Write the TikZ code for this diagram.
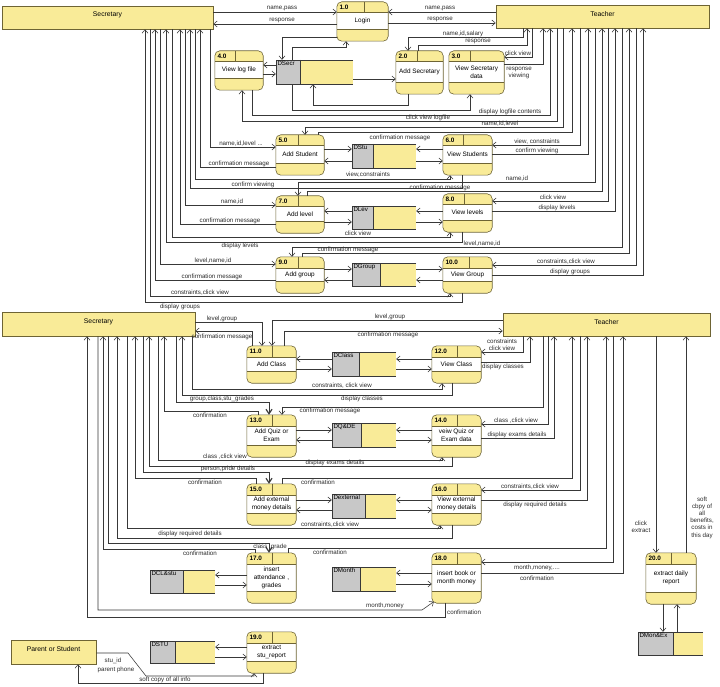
\documentclass[tikz,border=0pt]{standalone}
\usepackage{fontspec}
\setmainfont{Liberation Sans}
\usetikzlibrary{arrows.meta,fit}
\definecolor{dfdyellow}{HTML}{F9EB98}
\definecolor{dfdedge}{HTML}{6E6434}
\definecolor{dfdgray}{HTML}{C8C8C8}
\definecolor{dfdline}{HTML}{383838}
\definecolor{dfdtext}{HTML}{2B2B2B}
\tikzset{
  flow/.style={draw=dfdline,line width=0.55pt,-{Straight Barb[length=3.5pt,width=6pt]}},
  heavyflow/.style={flow,-{Straight Barb[length=4.5pt,width=6pt,line width=1.2pt]}},
  lbl/.style={font=\fontsize{6.2}{7.2}\selectfont,text=dfdtext,inner sep=0pt,align=center},
  entity/.style={draw=dfdedge,fill=dfdyellow,line width=0.6pt,inner sep=0pt,font=\fontsize{6.8}{8}\selectfont},
  procedge/.style={draw=dfdedge,line width=0.6pt},
  procnum/.style={font=\bfseries\fontsize{6.4}{7}\selectfont,anchor=west,inner sep=0pt},
  proctext/.style={font=\fontsize{6.4}{8}\selectfont,align=center,inner sep=0pt},
  storeedge/.style={draw=dfdline,line width=0.6pt},
  storetext/.style={font=\fontsize{6.2}{7}\selectfont,anchor=north west,inner sep=1.5pt},
}
% process: name, x1, y1, x2, y2, number, text, number cell width
\newcommand{\dfdproc}[8]{%
  \node[fit={(#2,#3) (#4,#5)},inner sep=0pt] (#1) {};
  \begin{scope}
    \clip[rounded corners=5pt] (#1.north west) rectangle (#1.south east);
    \fill[white] (#1.north west) rectangle (#1.south east);
    \fill[dfdyellow] (#1.north west) rectangle ([yshift=-11pt]#1.north east);
    \fill[dfdyellow] ([yshift=12pt]#1.south west) rectangle (#1.south east);
  \end{scope}
  \draw[procedge] ([yshift=-11pt]#1.north west) -- ([yshift=-11pt]#1.north east);
  \draw[procedge] ([yshift=12pt]#1.south west) -- ([yshift=12pt]#1.south east);
  \draw[procedge] ([xshift=#8pt]#1.north west) -- ([xshift=#8pt,yshift=-11pt]#1.north west);
  \draw[procedge,rounded corners=5pt] (#1.north west) rectangle (#1.south east);
  \node[procnum] (#1-num) at ([xshift=2.5pt,yshift=-5.5pt]#1.north west) {#6};
  \node[proctext] (#1-text) at ([yshift=0.5pt]#1.center) {#7};
}
% data store: name, x1, y1, x2, y2, x of gray part, label
\newcommand{\dfdstore}[7]{%
  \node[fit={(#2,#3) (#4,#5)},inner sep=0pt] (#1) {};
  \fill[dfdyellow] (#6,#3) rectangle (#4,#5);
  \fill[dfdgray] (#2,#3) rectangle (#6,#5);
  \draw[storeedge] (#4,#3) -- (#2,#3) -- (#2,#5) -- (#4,#5);
  \draw[storeedge] (#6,#3) -- (#6,#5);
  \node[storetext] (#1-name) at (#1.north west) {#7};
}
\begin{document}
\begin{tikzpicture}[x=1pt,y=-1pt]
  \fill[white] (0,0) rectangle (720,687);
  \useasboundingbox (0,0) rectangle (720,687);
  % external entities
  \node[entity,fit={(2,6) (213,29)}] (secT) {Secretary};
  \node[entity,fit={(496,5) (709,28)}] (teaT) {Teacher};
  \node[entity,fit={(2,312) (195,336)}] (secM) {Secretary};
  \node[entity,fit={(503,313) (710,336)}] (teaM) {Teacher};
  \node[entity,fit={(11,640) (96,664)}] (par) {Parent or Student};
  % processes
  \dfdproc{p1}{337}{2}{388}{41}{1.0}{Login}{27}
  \dfdproc{p4}{215}{51}{263}{90}{4.0}{View log file}{20}
  \dfdproc{p2}{396}{51}{443}{94}{2.0}{Add Secretary}{21}
  \dfdproc{p3}{449}{51}{504}{94}{3.0}{View Secretary\\data}{21}
  \dfdproc{p5}{276}{135}{324}{175}{5.0}{Add Student}{22}
  \dfdproc{p6}{443}{135}{492}{175}{6.0}{View Students}{20}
  \dfdproc{p7}{276}{196}{324}{233}{7.0}{Add level}{22}
  \dfdproc{p8}{443}{194}{492}{232}{8.0}{View levels}{21}
  \dfdproc{p9}{276}{257}{324}{293}{9.0}{Add group}{22}
  \dfdproc{p10}{443}{257}{492}{293}{10.0}{View Group}{26}
  \dfdproc{p11}{247}{346}{296}{383}{11.0}{Add Class}{25}
  \dfdproc{p12}{432}{346}{481}{383}{12.0}{View Class}{25}
  \dfdproc{p13}{247}{415}{296}{457}{13.0}{Add Quiz or\\Exam}{25}
  \dfdproc{p14}{432}{415}{481}{457}{14.0}{veiw Quiz or\\Exam data}{25}
  \dfdproc{p15}{247}{484}{296}{525}{15.0}{Add external\\money details}{25}
  \dfdproc{p16}{432}{484}{481}{525}{16.0}{View external\\money details}{25}
  \dfdproc{p17}{247}{553}{296}{603}{17.0}{insert\\attendance ,\\grades}{25}
  \dfdproc{p18}{432}{553}{481}{603}{18.0}{insert book or\\month money}{25}
  \dfdproc{p19}{247}{632}{296}{673}{19.0}{extract\\stu\_report}{25}
  \dfdproc{p20}{646}{553}{696}{604}{20.0}{extract daily\\report}{25}
  % data stores
  \dfdstore{dSecr}{276}{60}{353}{84}{300}{DSecr}
  \dfdstore{dStu}{352}{144}{416}{168}{373}{DStu}
  \dfdstore{dLev}{352}{206}{416}{229}{373}{DLev}
  \dfdstore{dGroup}{352}{263}{416}{286}{380}{DGroup}
  \dfdstore{dClass}{332}{352}{396}{376}{359}{DClass}
  \dfdstore{dQuiz}{332}{423}{396}{447}{361}{DQ\&DE}
  \dfdstore{dExt}{332}{494}{396}{518}{365}{Dexternal}
  \dfdstore{dClStu}{150}{570}{215}{593}{183}{DCL\&stu}
  \dfdstore{dMonth}{332}{567}{396}{591}{360}{DMonth}
  \dfdstore{dStu2}{150}{641}{215}{663}{175}{DSTU}
  \dfdstore{dMonEx}{638}{632}{703}{655}{673}{DMon\&Ex}

  % login
  \draw[flow] (secT.east |- 0,12) -- (p1.west |- 0,12);
  \node[lbl] (t1) at (282,8.5) {name,pass};
  \draw[flow] (p1.west |- 0,24) -- (secT.east |- 0,24);
  \node[lbl] (t2) at (282,20.5) {response};
  \draw[flow] (teaT.west |- 0,12) -- (p1.east |- 0,12);
  \node[lbl] (t3) at (440,8.5) {name,pass};
  \draw[flow] (p1.east |- 0,23) -- (teaT.west |- 0,23);
  \node[lbl] (t4) at (440,19.5) {response};
  \draw[flow] (p1.west |- 0,37) -| (dSecr.north -| 282,0);
  \draw[flow] (dSecr.north -| 292,0) |- (346,47) -- (p1.south -| 346,0);
  % secretaries and log file
  \draw[flow] (dSecr.west |- 0,65) -- (p4.east |- 0,65);
  \draw[flow] (p4.east |- 0,74) -- (dSecr.west |- 0,74);
  \draw[flow] (dSecr.east |- 0,79) -- (p2.west |- 0,79);
  \draw[flow] (p2.south -| 408,0) -- (408,105) -| (dSecr.south -| 313,0);
  \draw[flow] (dSecr.south -| 292,0) -- (292,110) -| (p3.south -| 470,0);
  \draw[flow] (teaT.south -| 523,0) |- (408,37) -- (p2.north -| 408,0);
  \node[lbl] (t5) at (463,33.5) {name,id,salary};
  \draw[flow] (p2.north -| 418,0) |- (527,45) -- (teaT.south -| 527,0);
  \node[lbl] (t6) at (478,41.5) {response};
  \draw[flow] (teaT.south -| 532,0) |- (p3.east |- 0,57);
  \node[lbl] (t7) at (518,53.5) {click view};
  \draw[flow] (p3.east |- 0,64) -| (teaT.south -| 543,0);
  \node[lbl] (t8) at (519,73) {response\\viewing};
  \draw[flow] (p4.south -| 252,0) |- (550,115) -- (teaT.south -| 550,0);
  \node[lbl] (t9) at (510,111.5) {display logfile contents};
  \draw[flow] (teaT.south -| 557,0) |- (242,121) -- (p4.south -| 242,0);
  \node[lbl] (t10) at (428,117.5) {click view logfile};
  % students
  \draw[flow] (teaT.south -| 563,0) |- (305,127) -- (p5.north -| 305,0);
  \node[lbl] (t11) at (500,123.5) {name,id,level};
  \draw[flow] (p5.north -| 318,0) |- (572,132) -- (teaT.south -| 572,0);
  \node[lbl] (t12) at (400,137.5) {confirmation message};
  \draw[flow] (teaT.south -| 580,0) |- (p6.east |- 0,145);
  \node[lbl] (t13) at (537,141.5) {view, constraints};
  \draw[flow] (p6.east |- 0,154) -| (teaT.south -| 588,0);
  \node[lbl] (t14) at (537,150.5) {confirm viewing};
  \draw[flow] (secT.south -| 210,0) |- (p5.west |- 0,147);
  \node[lbl] (t15) at (241,143.5) {name,id,level ...};
  \draw[flow] (p5.west |- 0,167) -| (secT.south -| 200,0);
  \node[lbl] (t16) at (239,163.5) {confirmation message};
  \draw[flow] (secT.south -| 195,0) |- (450,179) -- (p6.south -| 450,0);
  \node[lbl] (t17) at (368,175) {view,constraints};
  \draw[flow] (p6.south -| 462,0) |- (190,188) -- (secT.south -| 190,0);
  \node[lbl] (t18) at (253,184.5) {confirm viewing};
  \draw[flow] (p5.east |- 0,149) -- (dStu.west |- 0,149);
  \draw[flow] (dStu.west |- 0,161) -- (p5.east |- 0,161);
  \draw[flow] (p6.west |- 0,149) -- (dStu.east |- 0,149);
  \draw[flow] (dStu.east |- 0,161) -- (p6.west |- 0,161);
  % levels
  \draw[flow] (teaT.south -| 595,0) |- (298,182) -- (p7.north -| 298,0);
  \node[lbl] (t19) at (517,178.5) {name,id};
  \draw[flow] (p7.north -| 307,0) |- (602,191) -- (teaT.south -| 602,0);
  \node[lbl] (t20) at (440,187.5) {confirmation message};
  \draw[flow] (secT.south -| 185,0) |- (p7.west |- 0,205);
  \node[lbl] (t21) at (232,201.5) {name,id};
  \draw[flow] (p7.west |- 0,224) -| (secT.south -| 180,0);
  \node[lbl] (t22) at (230,220.5) {confirmation message};
  \draw[flow] (teaT.south -| 608,0) |- (p8.east |- 0,201);
  \node[lbl] (t23) at (553,197.5) {click view};
  \draw[flow] (p8.east |- 0,211) -| (teaT.south -| 615,0);
  \node[lbl] (t24) at (557,207.5) {display levels};
  \draw[flow] (secT.south -| 172,0) |- (450,237) -- (p8.south -| 450,0);
  \node[lbl] (t25) at (358,233.5) {click view};
  \draw[flow] (p8.south -| 462,0) |- (166,242) -- (secT.south -| 166,0);
  \node[lbl] (t26) at (240,246) {display levels};
  \draw[flow] (dLev.west |- 0,211) -- (p7.east |- 0,211);
  \draw[flow] (p7.east |- 0,222) -- (dLev.west |- 0,222);
  \draw[flow] (p8.west |- 0,211) -- (dLev.east |- 0,211);
  \draw[flow] (dLev.east |- 0,222) -- (p8.west |- 0,222);
  % groups
  \draw[flow] (teaT.south -| 622,0) |- (292,247) -- (p9.north -| 292,0);
  \node[lbl] (t27) at (482,243.5) {level,name,id};
  \draw[flow] (p9.north -| 302,0) |- (629,253) -- (teaT.south -| 629,0);
  \node[lbl] (t28) at (348,250) {confirmation message};
  \draw[flow] (secT.south -| 160,0) |- (p9.west |- 0,264);
  \node[lbl] (t29) at (213,260.5) {level,name,id};
  \draw[flow] (p9.west |- 0,280) -| (secT.south -| 155,0);
  \node[lbl] (t30) at (212,276.5) {confirmation message};
  \draw[flow] (teaT.south -| 636,0) |- (p10.east |- 0,265);
  \node[lbl] (t31) at (566,261.5) {constraints,click view};
  \draw[flow] (p10.east |- 0,275) -| (teaT.south -| 643,0);
  \node[lbl] (t32) at (570,271.5) {display groups};
  \draw[flow] (secT.south -| 150,0) |- (450,296) -- (p10.south -| 450,0);
  \node[lbl] (t33) at (200,292.5) {constraints,click view};
  \draw[flow] (p10.south -| 462,0) |- (145,302) -- (secT.south -| 145,0);
  \node[lbl] (t34) at (180,306.5) {display groups};
  \draw[flow] (p9.east |- 0,269) -- (dGroup.west |- 0,269);
  \draw[flow] (dGroup.west |- 0,280) -- (p9.east |- 0,280);
  \draw[flow] (dGroup.east |- 0,269) -- (p10.west |- 0,269);
  \draw[flow] (p10.west |- 0,280) -- (dGroup.east |- 0,280);

  % classes
  \draw[flow] (secM.east |- 0,322) -| (p11.north -| 262,0);
  \node[lbl] (t35) at (222,318.5) {level,group};
  \draw[flow] (p11.north -| 252,0) |- (secM.east |- 0,331);
  \node[lbl] (t36) at (222,337) {confirmation message};
  \draw[flow] (teaM.west |- 0,320) -| (p11.north -| 272,0);
  \node[lbl] (t37) at (390,316.5) {level,group};
  \draw[flow] (p11.north -| 284,0) |- (teaM.west |- 0,331);
  \node[lbl] (t38) at (388,335) {confirmation message};
  \draw[flow] (dClass.west |- 0,359) -- (p11.east |- 0,359);
  \draw[flow] (p11.east |- 0,369) -- (dClass.west |- 0,369);
  \draw[flow] (p12.west |- 0,359) -- (dClass.east |- 0,359);
  \draw[flow] (dClass.east |- 0,369) -- (p12.west |- 0,369);
  \draw[flow] (teaM.south -| 523,0) |- (p12.east |- 0,352);
  \node[lbl] (t39) at (502,344.5) {constraints\\click view};
  \draw[flow] (p12.east |- 0,362) -| (teaM.south -| 530,0);
  \node[lbl] (t40) at (503,367) {display classes};
  \draw[flow] (secM.south -| 192,0) |- (442,389) -- (p12.south -| 442,0);
  \node[lbl] (t41) at (342,385.5) {constraints, click view};
  \draw[flow] (p12.south -| 452,0) |- (182,395) -- (secM.south -| 182,0);
  \node[lbl] (t42) at (362,398.5) {display classes};
  % quiz and exam
  \draw[heavyflow] (secM.south -| 176,0) |- (269,402) -- (p13.north -| 269,0);
  \node[lbl] (t43) at (222,398.5) {group,class,stu\_grades};
  \draw[flow] (p13.north -| 258,0) |- (164,411) -- (secM.south -| 164,0);
  \node[lbl] (t44) at (210,415) {confirmation};
  \draw[flow] (teaM.south -| 543,0) |- (282,407) -- (p13.north -| 282,0);
  \node[lbl] (t45) at (330,411) {confirmation message};
  \draw[flow] (p13.east |- 0,430) -- (dQuiz.west |- 0,430);
  \draw[flow] (dQuiz.west |- 0,440) -- (p13.east |- 0,440);
  \draw[flow] (p14.west |- 0,430) -- (dQuiz.east |- 0,430);
  \draw[flow] (dQuiz.east |- 0,440) -- (p14.west |- 0,440);
  \draw[flow] (teaM.south -| 548,0) |- (p14.east |- 0,424);
  \node[lbl] (t46) at (516,420.5) {class ,click view};
  \draw[flow] (p14.east |- 0,438) -| (teaM.south -| 554,0);
  \node[lbl] (t47) at (517,434.5) {display exams details};
  \draw[flow] (secM.south -| 158,0) |- (442,460) -- (p14.south -| 442,0);
  \node[lbl] (t48) at (225,456.5) {class ,click view};
  \draw[flow] (p14.south -| 452,0) |- (149,466) -- (secM.south -| 149,0);
  \node[lbl] (t49) at (335,463) {display exams details};
  % external money
  \draw[heavyflow] (secM.south -| 143,0) |- (269,472) -- (p15.north -| 269,0);
  \node[lbl] (t50) at (228,469) {person,pride details};
  \draw[flow] (p15.north -| 256,0) |- (135,478) -- (secM.south -| 135,0);
  \node[lbl] (t51) at (205,482) {confirmation};
  \draw[flow] (p15.north -| 282,0) |- (572,478) -- (teaM.south -| 572,0);
  \node[lbl] (t52) at (318,482.5) {confirmation};
  \draw[flow] (p15.east |- 0,500) -- (dExt.west |- 0,500);
  \draw[flow] (dExt.west |- 0,510) -- (p15.east |- 0,510);
  \draw[flow] (p16.west |- 0,500) -- (dExt.east |- 0,500);
  \draw[flow] (dExt.east |- 0,510) -- (p16.west |- 0,510);
  \draw[flow] (teaM.south -| 580,0) |- (p16.east |- 0,490);
  \node[lbl] (t53) at (530,486.5) {constraints,click view};
  \draw[flow] (p16.east |- 0,500) -| (teaM.south -| 587,0);
  \node[lbl] (t54) at (535,505) {display required details};
  \draw[flow] (secM.south -| 127,0) |- (440,528) -- (p16.south -| 440,0);
  \node[lbl] (t55) at (330,524.5) {constraints,click view};
  \draw[flow] (p16.south -| 452,0) |- (117,538) -- (secM.south -| 117,0);
  \node[lbl] (t56) at (190,534) {display required details};
  % attendance and month money
  \draw[heavyflow] (secM.south -| 108,0) |- (269,543) -- (p17.north -| 269,0);
  \node[lbl] (t57) at (270,547) {class ,grade};
  \draw[flow] (p17.north -| 255,0) |- (103,549) -- (secM.south -| 103,0);
  \node[lbl] (t58) at (200,553) {confirmation};
  \draw[flow] (p17.north -| 288,0) |- (606,548) -- (teaM.south -| 606,0);
  \node[lbl] (t59) at (330,552.5) {confirmation};
  \draw[flow] (p17.west |- 0,575) -- (dClStu.east |- 0,575);
  \draw[flow] (dClStu.east |- 0,585) -- (p17.west |- 0,585);
  \draw[flow] (p18.west |- 0,573) -- (dMonth.east |- 0,573);
  \draw[flow] (dMonth.east |- 0,584) -- (p18.west |- 0,584);
  \draw[flow] (teaM.south -| 613,0) |- (p18.east |- 0,562);
  \node[lbl] (t60) at (537,567.5) {month,money,....};
  \draw[flow] (p18.east |- 0,573) -| (teaM.south -| 623,0);
  \node[lbl] (t61) at (537,578.5) {confirmation};
  \draw[flow] (secM.south -| 98,0) |- (422,610) -- ([xshift=2pt,yshift=1.5pt]p18.south west);
  \node[lbl] (t62) at (385,606) {month,money};
  \draw[flow] (p18.south -| 445,0) |- (87,617) -- (secM.south -| 87,0);
  \node[lbl,anchor=west] (t63) at (447,612.5) {confirmation};
  % student report
  \draw[flow] (p19.west |- 0,647) -- (dStu2.east |- 0,647);
  \draw[flow] (dStu2.east |- 0,657) -- (p19.west |- 0,657);
  \draw[flow] (par.east |- 0,653) -- (128,653) -- (146,676) -| (p19.south -| 254,0);
  \node[lbl] (t64) at (113,661) {stu\_id};
  \node[lbl] (t65) at (116,669.5) {parent phone};
  \draw[flow] (p19.south -| 263,0) |- (78,683) -- (par.south -| 78,0);
  \node[lbl] (t66) at (165,679.5) {soft copy of all info};
  % daily report
  \draw[flow] (teaM.south -| 656,0) -- (p20.north -| 656,0);
  \node[lbl] (t67) at (641,527) {click\\extract};
  \draw[flow] (p20.north -| 686,0) -- (teaM.south -| 686,0);
  \node[lbl] (t68) at (702,517.5) {soft\\cbpy of\\all\\benefits,\\costs in\\this day};
  \draw[flow] (p20.south -| 663,0) -- (dMonEx.north -| 663,0);
  \draw[flow] (dMonEx.north -| 677,0) -- (p20.south -| 677,0);
\end{tikzpicture}
\end{document}
